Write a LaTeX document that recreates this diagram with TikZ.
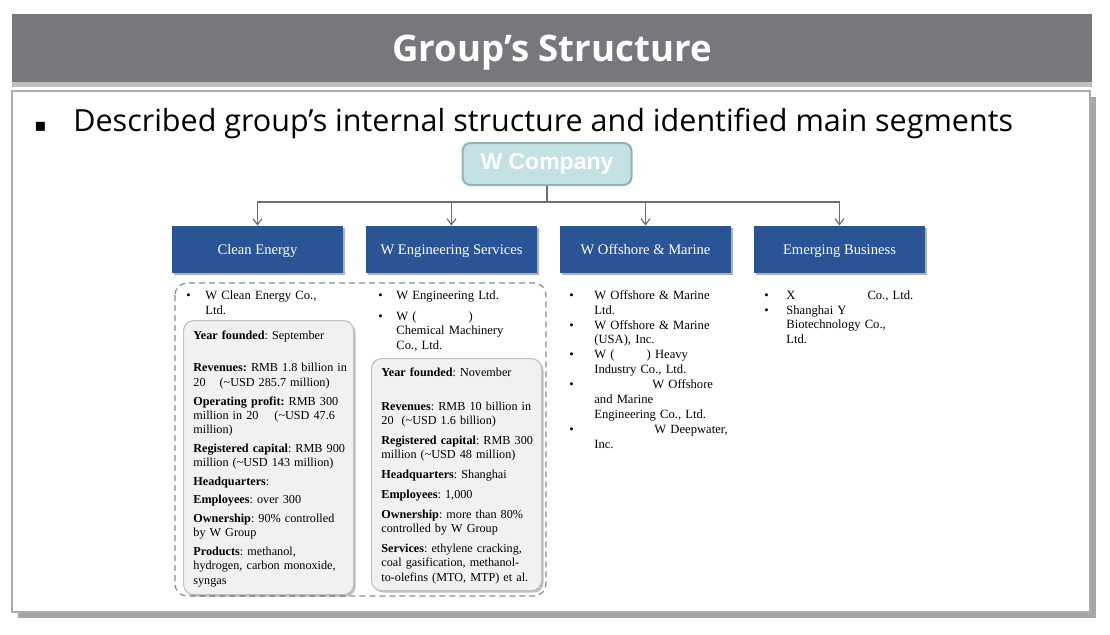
\documentclass[tikz,border=0pt]{standalone}
\usepackage{fontspec}
\newfontfamily\opensans{Open Sans}
\newfontfamily\arialfont{Liberation Sans}
\newfontfamily\bookfont{Liberation Serif}
\newfontfamily\dejavu{DejaVu Sans}
\usetikzlibrary{shadows,arrows.meta}
\definecolor{hdrgray}{HTML}{78777C}
\definecolor{segblue}{HTML}{2A5495}
\definecolor{topteal}{HTML}{C4E2E3}
\definecolor{topedge}{HTML}{8DB3B4}
\definecolor{infofill}{HTML}{F1F1F1}
\definecolor{infoedge}{HTML}{C2C2C2}
\definecolor{linkgray}{HTML}{6E6E6E}
\newlength{\bulind}
\newcommand{\bul}{\noindent\llap{\makebox[\bulind][l]{\textbullet}}}
\newcommand{\bulstart}[1]{\setlength{\bulind}{#1}\setlength{\leftskip}{#1}}
\tikzset{
    hdr/.style={fill=hdrgray, text=white, minimum width=540pt, minimum height=34pt, text depth=0pt,
        font=\opensans\bfseries\fontsize{18.3}{22}\selectfont,
        drop shadow={shadow xshift=0pt, shadow yshift=-2.5pt, fill=black, opacity=.25}},
    frame/.style={draw=black!33, line width=1pt, fill=white,
        drop shadow={shadow xshift=3pt, shadow yshift=-3pt, fill=black, opacity=.35}},
    intro/.style={inner sep=0pt, font=\opensans\fontsize{15.25}{18}\selectfont},
    company/.style={draw=topedge, line width=1pt, fill=topteal, rounded corners=4pt,
        minimum width=84.5pt, minimum height=21pt, text=white,
        font=\arialfont\bfseries\fontsize{11.5}{13}\selectfont},
    segment/.style={fill=segblue, text=white, minimum width=85.5pt, minimum height=23.5pt,
        text height=5pt, text depth=0pt, font=\bookfont\fontsize{7.3}{8}\selectfont,
        drop shadow={shadow xshift=1pt, shadow yshift=-1pt, fill=black, opacity=.3}},
    link/.style={draw=linkgray, line width=.6pt, -{Straight Barb[length=3pt, width=4.5pt]}},
    grp/.style={draw=black!45, line width=.6pt, dash pattern=on 3pt off 2pt, rounded corners=6pt},
    infobox/.style={draw=infoedge, line width=.6pt, fill=infofill, rounded corners=5pt,
        anchor=north west, minimum width=85pt,
        drop shadow={shadow xshift=1pt, shadow yshift=-1pt, fill=black, opacity=.25}},
    facts/.style={inner sep=0pt, anchor=north west, text width=80pt, align=left,
        font=\bookfont\fontsize{6.1}{7.1}\selectfont\frenchspacing\setlength{\parskip}{2.3pt}},
    blist/.style={inner sep=0pt, anchor=north west, text width=#1, align=left,
        font=\bookfont\fontsize{6.3}{7.45}\selectfont\frenchspacing}
}

\begin{document}
\begin{tikzpicture}[x=0.5pt, y=-0.5pt]
    \useasboundingbox (0,0) rectangle (1110,634);
    \node[hdr] (hdr) at (552,48) {Group’s Structure};
    \draw[frame] (12,91) rectangle (1090,612);
    \node[intro, anchor=base west] (intro) at (34,131) {\makebox[19.5pt][l]{\dejavu\fontsize{9}{9}\selectfont ▪}Described group’s internal structure and identified main segments};

    \node[company] (wco) at (547,164) {W Company};
    \node[segment] (ce) at (257.5,249.5) {Clean Energy};
    \node[segment] (wes) at (451.5,249.5) {W Engineering Services};
    \node[segment] (wom) at (645.5,249.5) {W Offshore \& Marine};
    \node[segment] (eb) at (839.5,249.5) {Emerging Business};
    \foreach \s in {ce,wes,wom,eb}
        \draw[link] (wco.south) -- ++(0,16) -| (\s.north);

    \draw[grp] (175,283) rectangle (546,596);
    \node[infobox, minimum height=137pt] (ceinfo) at (183,320) {};
    \node[infobox, minimum height=116pt] (wesinfo) at (371,358) {};

    \node[blist=80pt] (celist) at (186,290) {\bulstart{9.5pt}%
        \bul W Clean Energy Co.,\\Ltd.\par};
    \node[blist=81pt] (weslist) at (378,290) {\bulstart{9pt}%
        \bul W Engineering Ltd.\\[3pt]
        \bul W (\hspace{26pt})\\Chemical Machinery\\Co., Ltd.\par};
    \node[blist=86pt] (womlist) at (569,290) {\bulstart{12.5pt}%
        \bul W Offshore \& Marine\\Ltd.\\
        \bul W Offshore \& Marine\\(USA), Inc.\\
        \bul W (\hspace{16pt}) Heavy\\Industry Co., Ltd.\\
        \bul \hspace*{29pt}W Offshore\\and Marine\\Engineering Co., Ltd.\\
        \bul \hspace*{30pt}W Deepwater,\\Inc.\par};
    \node[blist=84pt] (eblist) at (764,290) {\bulstart{11pt}%
        \bul X\hspace{36pt}Co., Ltd.\\
        \bul Shanghai Y\\Biotechnology Co.,\\Ltd.\par};

    \node[facts] (cefacts) at ([shift={(10,10)}]ceinfo.north west) {%
        \textbf{Year founded}: September\\\mbox{}\par
        \textbf{Revenues:} RMB 1.8 billion in\\20\hspace{7pt}(\textasciitilde USD 285.7 million)\par
        \textbf{Operating profit:} RMB 300\\million in 20\hspace{8pt}(\textasciitilde USD 47.6\\million)\par
        \textbf{Registered capital}: RMB 900\\million (\textasciitilde USD 143 million)\par
        \textbf{Headquarters}:\par
        \textbf{Employees}: over 300\par
        \textbf{Ownership}: 90\% controlled\\by W Group\par
        \textbf{Products}: methanol,\\hydrogen, carbon monoxide,\\syngas};
    \node[facts] (wesfacts) at ([shift={(10,9)}]wesinfo.north west) {\setlength{\parskip}{2.9pt}%
        \textbf{Year founded}: November\\\mbox{}\par
        \textbf{Revenues}: RMB 10 billion in\\20\hspace{4pt}(\textasciitilde USD 1.6 billion)\par
        \textbf{Registered capital}: RMB 300\\million (\textasciitilde USD 48 million)\par
        \textbf{Headquarters}: Shanghai\par
        \textbf{Employees}: 1,000\par
        \textbf{Ownership}: more than 80\%\\controlled by W Group\par
        \textbf{Services}: ethylene cracking,\\coal gasification, methanol-\\to-olefins (MTO, MTP) et al.};
\end{tikzpicture}
\end{document}
